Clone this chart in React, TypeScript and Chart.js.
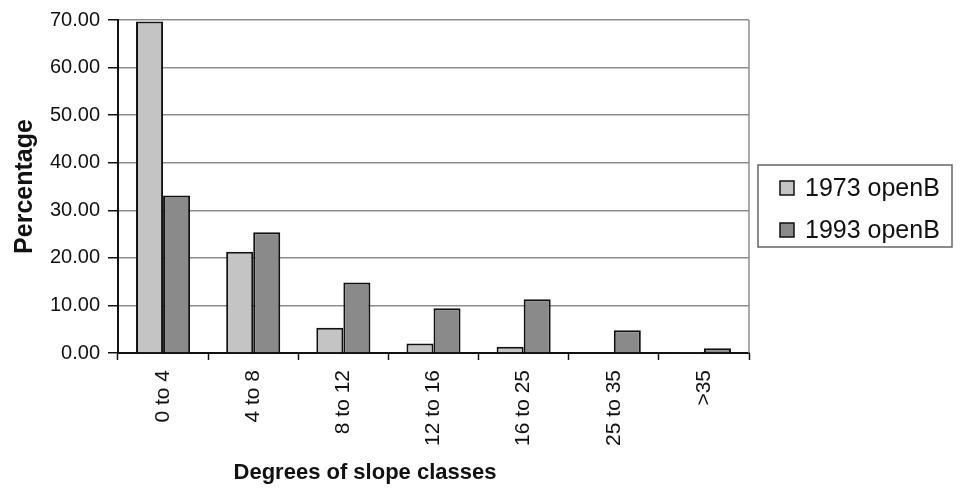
import React, { useEffect, useRef } from "react";
import { Chart, registerables } from "chart.js";

Chart.register(...registerables);

const categories = ["0 to 4", "4 to 8", "8 to 12", "12 to 16", "16 to 25", "25 to 35", ">35"];
const series1973 = [69.7, 21.3, 5.3, 2.0, 1.3, 0.15, 0.1];
const series1993 = [33.1, 25.4, 14.8, 9.4, 11.3, 4.8, 1.0];
const seriesLabels = ["1973 openB", "1993 openB"];
const seriesColors = ["#c4c4c4", "#8a8a8a"];
const yTicks = [0, 10, 20, 30, 40, 50, 60, 70];
const xTitle = "Degrees of slope classes";
const yTitle = "Percentage";

const FONT = "'Liberation Sans', Arial, Helvetica, sans-serif";

const extrasPlugin = {
  id: "extras",
  afterDraw(chart: any) {
    const ctx = chart.ctx;
    const a = chart.chartArea;
    ctx.save();
    // right border of plot
    ctx.strokeStyle = "#8c8c8c";
    ctx.lineWidth = 1.5;
    ctx.beginPath();
    ctx.moveTo(a.right, a.top);
    ctx.lineTo(a.right, a.bottom);
    ctx.stroke();

    // x title
    ctx.fillStyle = "#111";
    ctx.font = `bold 22px ${FONT}`;
    ctx.textAlign = "center";
    ctx.textBaseline = "middle";
    ctx.fillText(xTitle, a.left + 247, a.bottom + 120);

    // legend
    const lx = a.right + 9;
    const ly = 157;
    const lw = 194;
    const lh = 82;
    ctx.strokeStyle = "#666";
    ctx.lineWidth = 1.5;
    ctx.strokeRect(lx, ly, lw, lh);
    ctx.font = `25px ${FONT}`;
    ctx.textAlign = "left";
    ctx.textBaseline = "middle";
    chart.data.datasets.forEach((ds: any, i: number) => {
      const cy = ly + 23 + i * 42;
      ctx.fillStyle = ds.backgroundColor;
      ctx.fillRect(lx + 22, cy - 7, 14, 14);
      ctx.strokeStyle = "#111";
      ctx.lineWidth = 1.5;
      ctx.strokeRect(lx + 22, cy - 7, 14, 14);
      ctx.fillStyle = "#111";
      ctx.fillText(ds.label, lx + 47, cy + 1);
    });
    ctx.restore();
  },
};

export default function App() {
  const ref = useRef<HTMLCanvasElement>(null);
  useEffect(() => {
    if (!ref.current) return;
    const chart = new Chart(ref.current, {
      type: "bar",
      data: {
        labels: categories,
        datasets: [
          {
            label: seriesLabels[0],
            data: series1973,
            backgroundColor: seriesColors[0],
            borderColor: "#111",
            borderWidth: 2,
            categoryPercentage: 0.6,
            barPercentage: 1,
          },
          {
            label: seriesLabels[1],
            data: series1993,
            backgroundColor: seriesColors[1],
            borderColor: "#111",
            borderWidth: 2,
            categoryPercentage: 0.6,
            barPercentage: 1,
          },
        ],
      },
      options: {
        animation: false,
        responsive: true,
        maintainAspectRatio: false,
        layout: { padding: { top: 12, right: 205, left: 0, bottom: 0 } },
        plugins: {
          legend: { display: false },
          tooltip: { enabled: false },
        },
        scales: {
          x: {
            grid: {
              display: true,
              drawOnChartArea: false,
              tickLength: 7,
              tickColor: "#111",
              tickWidth: 1.5,
              offset: true,
            },
            border: { color: "#111", width: 2 },
            ticks: {
              minRotation: 90,
              maxRotation: 90,
              padding: 10,
              color: "#111",
              font: { family: FONT, size: 21 },
            },
            afterFit(scale: any) {
              scale.height = 138;
              scale.paddingLeft = 0;
              scale.paddingRight = 0;
            },
          },
          y: {
            min: 0,
            max: 70,
            afterBuildTicks(scale: any) {
              scale.ticks = yTicks.map((v) => ({ value: v }));
            },
            grid: {
              color: "#8c8c8c",
              lineWidth: 1.5,
              tickLength: 10,
              tickColor: "#111",
              tickWidth: 1.5,
            },
            border: { color: "#111", width: 2 },
            ticks: {
              padding: 8,
              color: "#111",
              font: { family: FONT, size: 20 },
              callback: (v: any) => Number(v).toFixed(2),
            },
            title: {
              display: true,
              text: yTitle,
              color: "#111",
              padding: { top: 2, bottom: 4 },
              font: { family: FONT, size: 25, weight: "bold" },
            },
            afterFit(scale: any) {
              scale.width = 110;
              scale.paddingTop = 0;
              scale.paddingBottom = 0;
            },
          },
        },
      },
      plugins: [extrasPlugin],
    });
    return () => chart.destroy();
  }, []);
  return (
    <div style={{ width: 946, height: 483, position: "relative" }}>
      <canvas ref={ref} />
    </div>
  );
}
